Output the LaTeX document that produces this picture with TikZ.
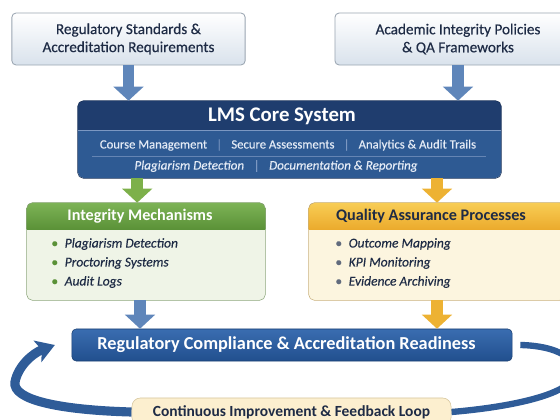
\documentclass[tikz,border=0pt]{standalone}
\usepackage{fontspec}
\setmainfont{Carlito}
\newfontfamily\semibf{Carlito}[FakeBold=0.35]
\usepackage{tikz}
\usetikzlibrary{arrows.meta,backgrounds,positioning}

\definecolor{topbot}{HTML}{D9E2EC}
\definecolor{topline}{HTML}{9AA5B1}
\definecolor{inknavy}{HTML}{1E2B45}
\definecolor{lmshead}{HTML}{1F3D6E}
\definecolor{lmsbody}{HTML}{2E5A93}
\definecolor{lmstext}{HTML}{E4EBF6}
\definecolor{lmssep}{HTML}{7C98C2}
\definecolor{arrblue}{HTML}{5F86BA}
\definecolor{arrgreen}{HTML}{7DB04A}
\definecolor{arrorange}{HTML}{EDB233}
\definecolor{grnhi}{HTML}{7DB356}
\definecolor{grnlo}{HTML}{5A9137}
\definecolor{grnbody}{HTML}{EFF4E7}
\definecolor{grnline}{HTML}{8CA67A}
\definecolor{orhi}{HTML}{F8CD55}
\definecolor{orlo}{HTML}{EBAA2C}
\definecolor{orbody}{HTML}{FCF5DF}
\definecolor{orline}{HTML}{C9B07A}
\definecolor{comphi}{HTML}{3A6DB0}
\definecolor{complo}{HTML}{214F8E}
\definecolor{loopblue}{HTML}{2F5C98}
\definecolor{loopfill}{HTML}{FCEFCF}
\definecolor{loopline}{HTML}{D5C59C}

\begin{document}
\begin{tikzpicture}[x=0.025cm,y=-0.025cm,
  topbox/.style={draw=topline, line width=0.6pt, top color=white, bottom color=topbot,
    rounded corners=3pt, align=center, text=inknavy, minimum height=1.3cm,
    font=\semibf\fontsize{10.8}{12.8}\selectfont},
  panel/.style={rounded corners=4pt, minimum height=2.425cm},
  headtext/.style={font=\fontsize{11.5}{13}\selectfont\bfseries},
  item/.style={anchor=west, inner sep=0pt, text=inknavy, font=\semibf\fontsize{9.6}{11}\selectfont\itshape},
  blockarrow/.style={line width=8.5pt, -{Triangle[length=10pt,width=21pt]}},
  sep/.style={text=lmssep}]

\useasboundingbox (0,0) rectangle (560,420);

% inputs
\draw (128.5,39) node[topbox, minimum width=5.83cm] (regstd) {Regulatory Standards \&\\Accreditation Requirements};
\draw (458,39) node[topbox, minimum width=6.15cm] (acad) {Academic Integrity Policies\\\& QA Frameworks};

% lms core
\draw (289.5,139.5) node[fill=lmsbody, rounded corners=4pt, minimum width=10.575cm, minimum height=1.925cm] (lms) {};
\begin{scope}
  \clip[rounded corners=4pt] (lms.north west) rectangle (lms.south east);
  \fill[lmshead] (lms.north west) rectangle ([yshift=-0.75cm]lms.north east);
\end{scope}
\draw[lmssep, line width=0.8pt] ([yshift=-0.75cm]lms.north west) -- ([yshift=-0.75cm]lms.north east);
\draw[lmshead!80!black, rounded corners=4pt] (lms.north west) rectangle (lms.south east);
\draw (282,116) node[text=white, font=\fontsize{14.8}{16}\selectfont\bfseries] (lmstitle) {LMS Core System};
\draw (288,145) node[text=lmstext, font=\semibf\fontsize{9}{11}\selectfont] (lmsrow1)
  {Course Management {\color{lmssep}\enspace|\enspace} Secure Assessments {\color{lmssep}\enspace|\enspace} Analytics \& Audit Trails};
\draw[lmssep!70!lmsbody, line width=0.5pt] (92,156) -- (486,156);
\draw (276,166) node[text=lmstext, font=\semibf\fontsize{9.3}{11}\selectfont\itshape] (lmsrow2)
  {Plagiarism Detection {\upshape\color{lmssep}\enspace|\enspace} Documentation \& Reporting};

% integrity panel
\draw (146,251.5) node[panel, fill=grnbody, minimum width=5.95cm] (integ) {};
\begin{scope}
  \clip[rounded corners=4pt] (integ.north west) rectangle (integ.south east);
  \fill[top color=grnhi, bottom color=grnlo] (integ.north west) rectangle ([yshift=-0.675cm]integ.north east);
\end{scope}
\draw[grnline, rounded corners=4pt] (integ.north west) rectangle (integ.south east);
\draw (140,216.5) node[headtext, text=white] (inthead) {Integrity Mechanisms};
\node[item] (int1) at (51,244) {{\color{grnlo}\textbullet}\enspace Plagiarism Detection};
\node[item] (int2) at (51,263) {{\color{grnlo}\textbullet}\enspace Proctoring Systems};
\node[item] (int3) at (51,282) {{\color{grnlo}\textbullet}\enspace Audit Logs};

% qa panel
\draw (437,251.5) node[panel, fill=orbody, minimum width=6.4cm] (qa) {};
\begin{scope}
  \clip[rounded corners=4pt] (qa.north west) rectangle (qa.south east);
  \fill[top color=orhi, bottom color=orlo] (qa.north west) rectangle ([yshift=-0.675cm]qa.north east);
\end{scope}
\draw[orline, rounded corners=4pt] (qa.north west) rectangle (qa.south east);
\draw (431,216.5) node[headtext, text=inknavy] (qahead) {Quality Assurance Processes};
\node[item] (qa1) at (335,244) {{\color{inknavy!70}\textbullet}\enspace Outcome Mapping};
\node[item] (qa2) at (335,263) {{\color{inknavy!70}\textbullet}\enspace KPI Monitoring};
\node[item] (qa3) at (335,282) {{\color{inknavy!70}\textbullet}\enspace Evidence Archiving};

% outcome
\draw (292,345) node[draw=complo!80!black, top color=comphi, bottom color=complo, rounded corners=3pt,
  minimum width=11cm, minimum height=0.8cm] (comp) {};
\draw (286.5,345) node[text=white, font=\fontsize{13}{15}\selectfont\bfseries] (comptext)
  {Regulatory Compliance \& Accreditation Readiness};
\draw (291.5,412) node[draw=loopline, fill=loopfill, rounded corners=6pt, minimum width=7.975cm,
  minimum height=0.7cm, text=inknavy, font=\fontsize{11}{13}\selectfont\bfseries] (loopbox)
  {Continuous Improvement \& Feedback Loop};

% arrows
\draw[blockarrow, arrblue] (regstd.south) -- (regstd.south |- lms.north);
\draw[blockarrow, arrblue] (acad.south) -- (acad.south |- lms.north);
\draw[blockarrow, arrgreen] ([xshift=-0.22cm]integ.north |- lms.south) -- ([xshift=-0.22cm]integ.north);
\draw[blockarrow, arrorange] (qa.north |- lms.south) -- (qa.north);
\draw[blockarrow, arrblue] ([xshift=-0.15cm]integ.south) -- ([xshift=-0.15cm]integ.south |- comp.north);
\draw[blockarrow, arrorange] (qa.south) -- (qa.south |- comp.north);

% feedback loop
\begin{pgfonlayer}{background}
\draw[loopblue, line width=4.5pt] ([xshift=0.2cm]comp.east) .. controls (565,346) and (585,365) .. (570,382)
  .. controls (555,398) and (500,408) .. (loopbox.east);
\draw[loopblue, line width=6.5pt, -{Stealth[length=13pt,width=16pt,inset=3pt]}] (loopbox.west)
  .. controls (60,410) and (12,400) .. (15,382) .. controls (18,366) and (33,353) .. ([xshift=-0.42cm]comp.west);
\end{pgfonlayer}

\end{tikzpicture}
\end{document}
